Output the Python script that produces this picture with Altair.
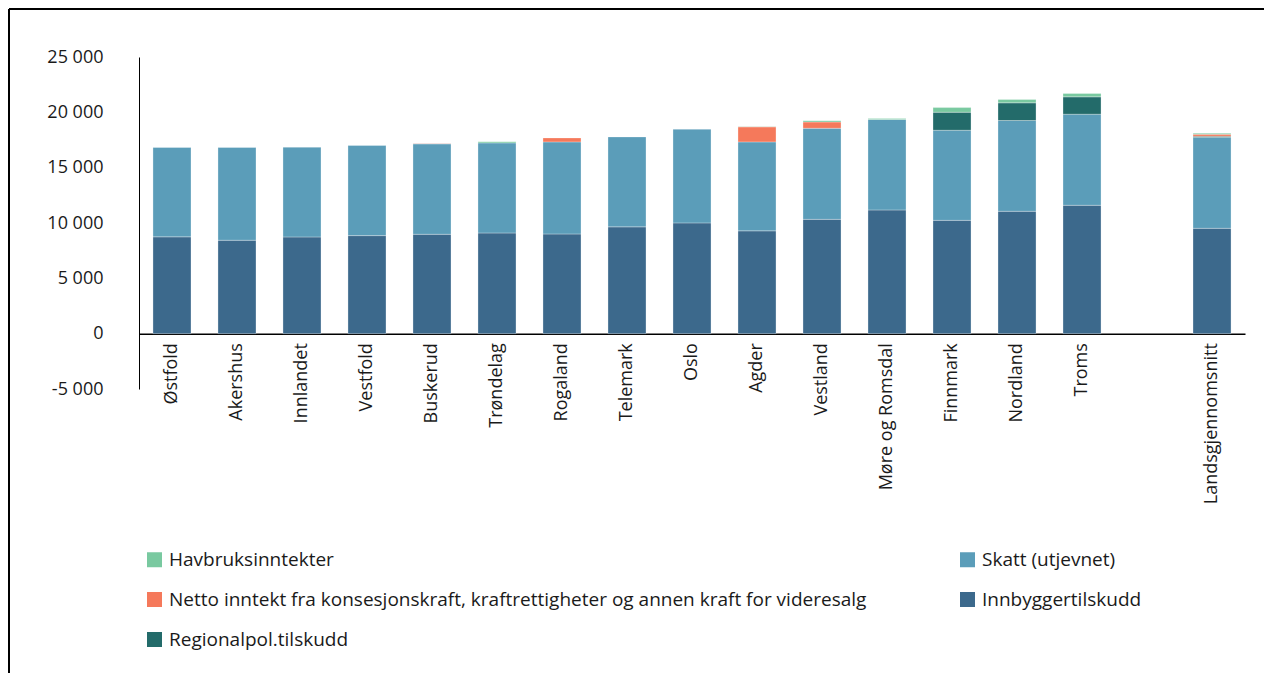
import altair as alt
import pandas as pd

regions = ["Østfold", "Akershus", "Innlandet", "Vestfold", "Buskerud", "Trøndelag",
           "Rogaland", "Telemark", "Oslo", "Agder", "Vestland", "Møre og Romsdal",
           "Finnmark", "Nordland", "Troms", "Landsgjennomsnitt"]

innbyggertilskudd = [8750, 8440, 8740, 8860, 8980, 9100, 9010, 9650, 10010, 9290,
                     10330, 11180, 10240, 11060, 11600, 9520]
skatt = [8070, 8380, 8110, 8140, 8170, 8140, 8320, 8130, 8460, 8040,
         8230, 8170, 8140, 8200, 8230, 8230]
regionalpol = [0, 0, 0, 0, 0, 0, 0, 0, 0, 0, 0, 0, 1630, 1600, 1570, 90]
netto_kraft = [0, 0, 0, 0, 40, 0, 360, 0, 0, 1360, 570, 0, 0, 0, 0, 180]
havbruk = [0, 0, 0, 0, 0, 100, 0, 0, 0, 30, 120, 90, 420, 300, 300, 90]

series_names = ["Innbyggertilskudd", "Skatt (utjevnet)", "Regionalpol.tilskudd",
                "Netto inntekt fra konsesjonskraft, kraftrettigheter og annen kraft for videresalg",
                "Havbruksinntekter"]
series_values = [innbyggertilskudd, skatt, regionalpol, netto_kraft, havbruk]

# legend is filled column by column (3 rows x 2 columns)
legend_order = ["Havbruksinntekter",
                "Netto inntekt fra konsesjonskraft, kraftrettigheter og annen kraft for videresalg",
                "Regionalpol.tilskudd", "Skatt (utjevnet)", "Innbyggertilskudd"]
legend_colors = ["#79C9A0", "#F5795B", "#236B6A", "#5B9DB9", "#3C698C"]

y_ticks = [-5000, 0, 5000, 10000, 15000, 20000, 25000]

rows = []
for rank, (name, vals) in enumerate(zip(series_names, series_values)):
    for reg, v in zip(regions, vals):
        if v != 0:
            rows.append({"region": reg, "component": name, "value": v, "rank": rank})
df = pd.DataFrame(rows)

x_domain = regions[:15] + ["_gap"] + regions[15:]

W = 1106
H = 332

bars = alt.Chart(df).mark_bar(stroke="white", strokeWidth=0.6, strokeOpacity=0.5).encode(
    x=alt.X("region:N",
            scale=alt.Scale(domain=x_domain, paddingInner=0.415, paddingOuter=0.215),
            axis=alt.Axis(title=None, labelAngle=-90, labelFontSize=18, labelPadding=9,
                          ticks=False, domainColor="black", domainWidth=1.5,
                          offset=-H * 5000 / 30000, labelColor="#1a1a1a", labelLimit=300,
                          labelExpr="datum.value == '_gap' ? '' : datum.value")),
    y=alt.Y("value:Q", stack="zero",
            scale=alt.Scale(domain=[-5000, 25000], nice=False),
            axis=alt.Axis(title=None, values=y_ticks, grid=False, ticks=False,
                          domainColor="black", domainWidth=1, labelPadding=36,
                          labelFontSize=18, labelColor="#1a1a1a",
                          labelExpr="(datum.value < 0 ? '-' : '') + replace(format(abs(datum.value), ','), ',', ' ')")),
    color=alt.Color("component:N",
                    scale=alt.Scale(domain=legend_order, range=legend_colors),
                    legend=alt.Legend(title=None, orient="none", legendX=6, legendY=493,
                                      columns=2, symbolType="square", symbolSize=225,
                                      symbolStrokeWidth=0, labelFontSize=19, labelOffset=5,
                                      rowPadding=20, columnPadding=91, labelLimit=900,
                                      labelColor="#1a1a1a")),
    order=alt.Order("rank:Q"),
)

frame_df = pd.DataFrame({"k": [0]})
left_line = alt.Chart(frame_df).mark_rule(color="black", strokeWidth=2).encode(
    x=alt.value(-130), y=alt.value(-48), y2=alt.value(616))
top_line = alt.Chart(frame_df).mark_rule(color="black", strokeWidth=2).encode(
    x=alt.value(-130), x2=alt.value(1125), y=alt.value(-48))

chart = alt.layer(bars, left_line, top_line).properties(
    width=W, height=H, padding=0
).configure(font="Open Sans").configure_view(stroke=None)

chart.save("out.html", embed_options={"renderer": "svg", "actions": False})
